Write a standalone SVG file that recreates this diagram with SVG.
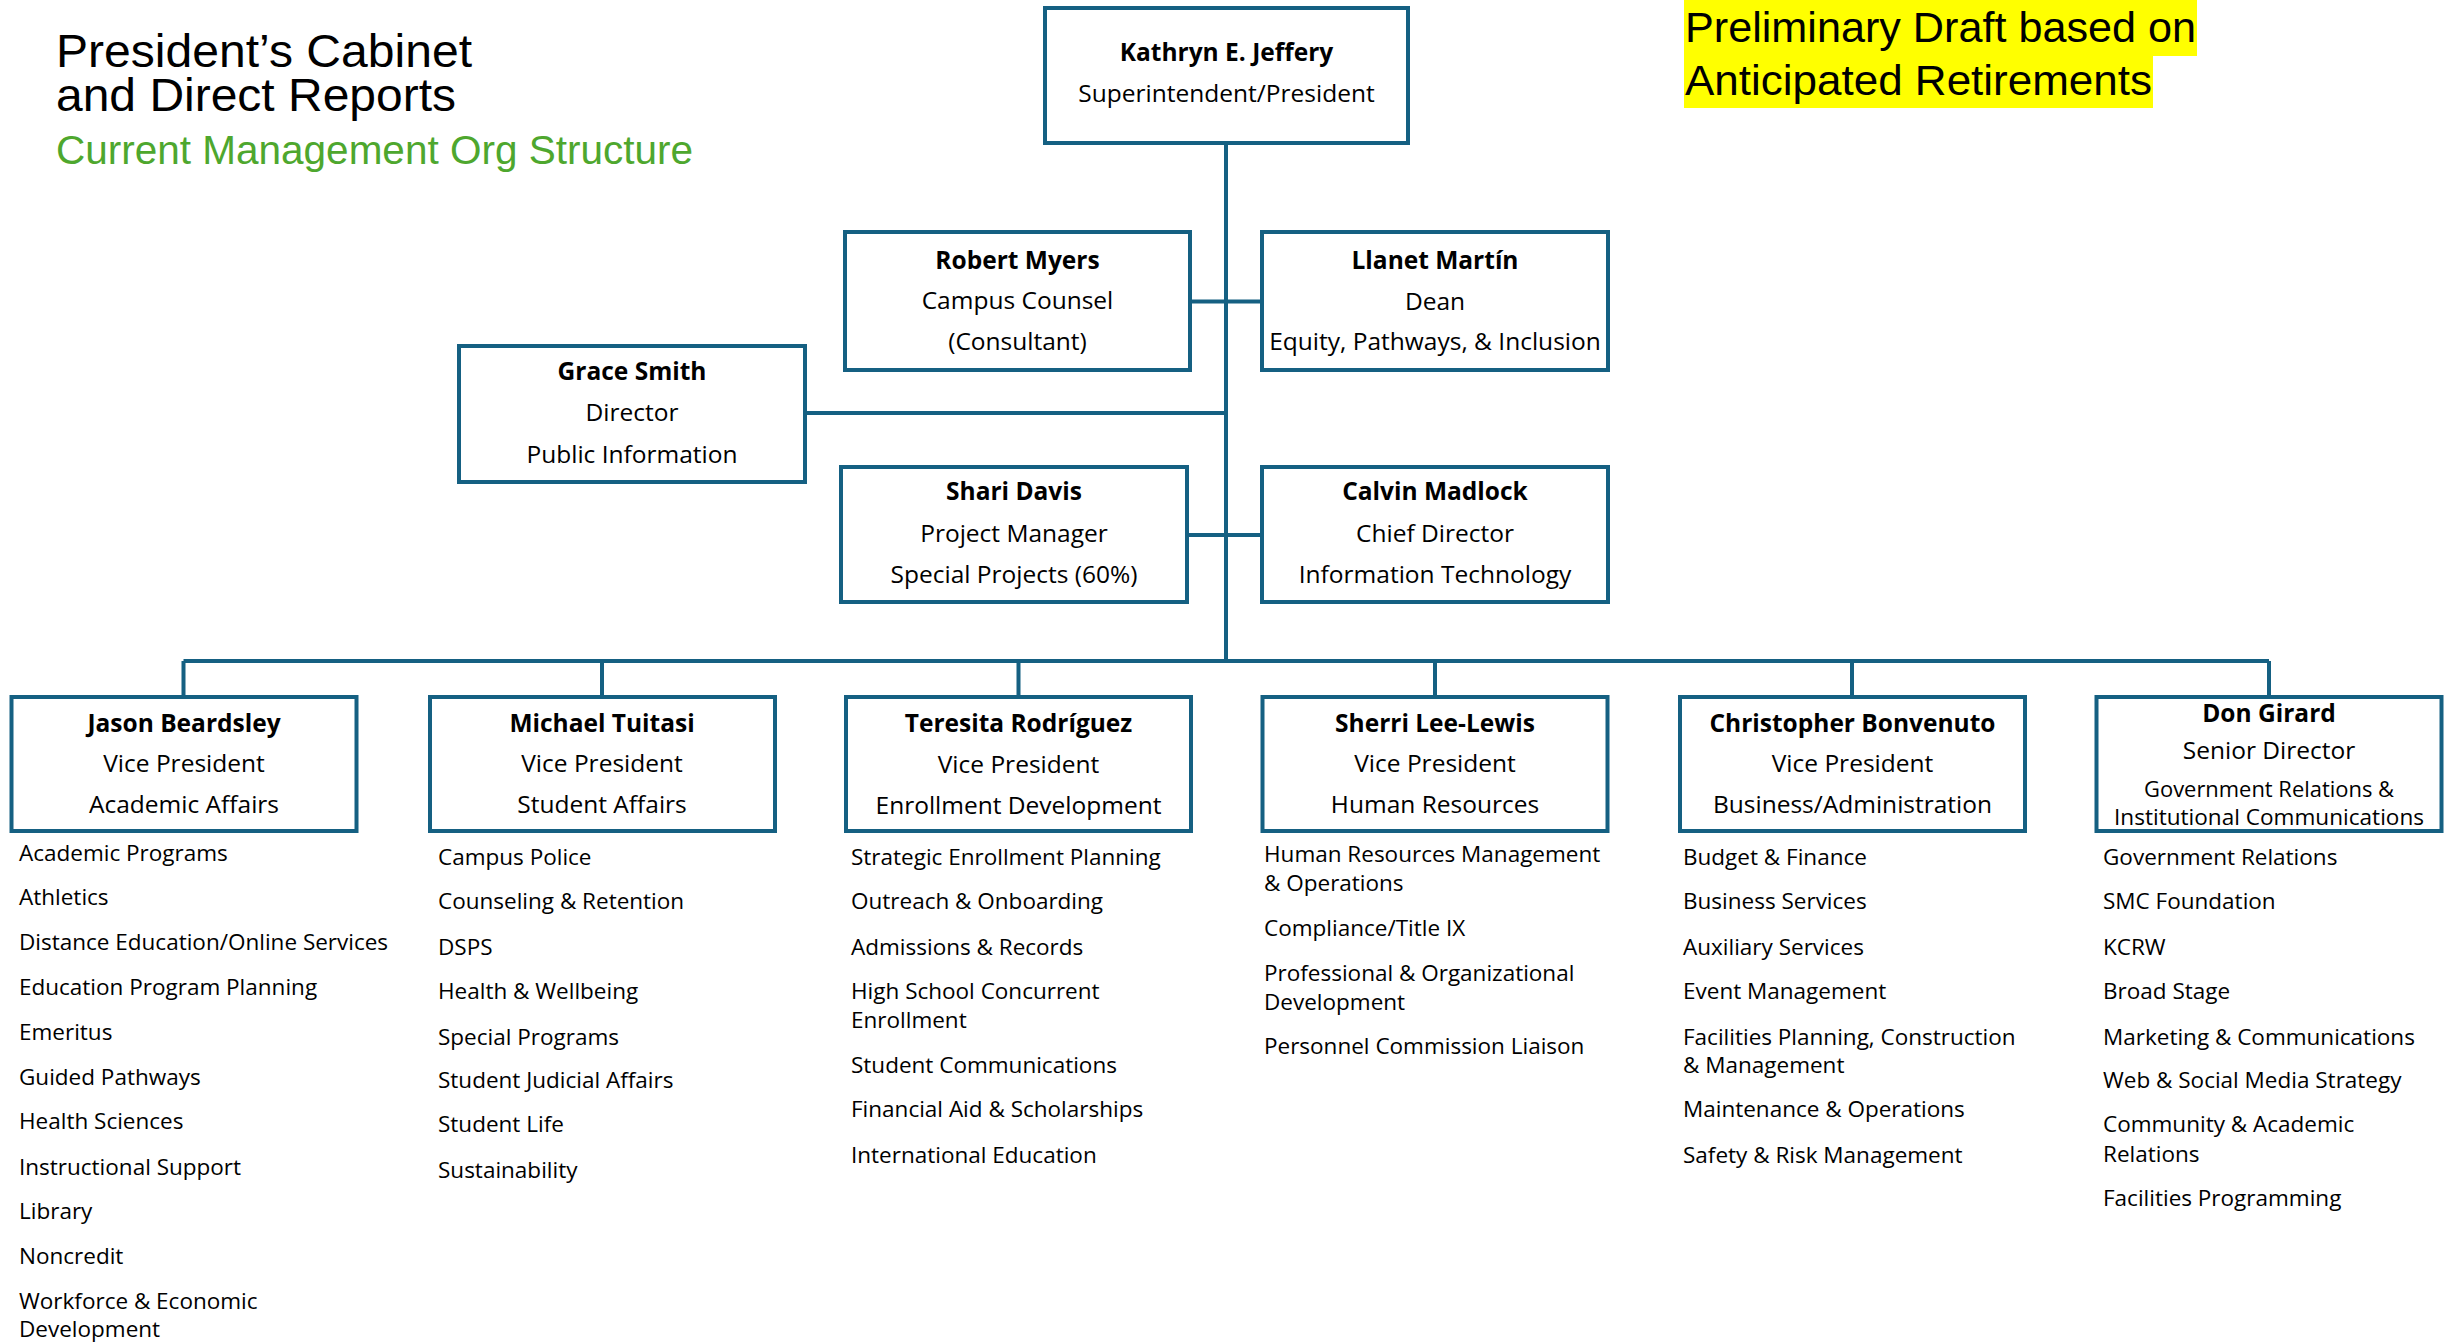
<svg xmlns="http://www.w3.org/2000/svg" width="2455" height="1342" viewBox="0 0 2455 1342">
<style>
.box{fill:#fff;stroke:#156082;stroke-width:4}
.con{fill:none;stroke:#156082;stroke-width:4}
.t{font-family:"Open Sans","Liberation Sans",sans-serif;font-size:24.5px;fill:#000;text-anchor:middle}
.n{font-weight:bold}
.s{font-size:21px}
.li{font-family:"Open Sans","Liberation Sans",sans-serif;font-size:22.5px;fill:#000}
.title{font-family:"Liberation Sans",Arial,sans-serif;font-size:46px;fill:#000}
.green{font-family:"Liberation Sans",Arial,sans-serif;font-size:40px;fill:#4EA72E}
.hl{font-family:"Liberation Sans",Arial,sans-serif;font-size:43px;fill:#000}
</style>
<rect width="2455" height="1342" fill="#fff"/>
<g id="title">
<text class="title" x="56" y="67" textLength="416" lengthAdjust="spacingAndGlyphs">President’s Cabinet</text>
<text class="title" x="56" y="111" textLength="400" lengthAdjust="spacingAndGlyphs">and Direct Reports</text>
<text class="green" x="56" y="164" textLength="637" lengthAdjust="spacingAndGlyphs">Current Management Org Structure</text>
</g>
<g id="draft-note">
<rect x="1684" y="0" width="513" height="56" fill="#FFFF00"/>
<rect x="1684" y="55" width="469" height="53" fill="#FFFF00"/>
<text class="hl" x="1685" y="42" textLength="511" lengthAdjust="spacingAndGlyphs">Preliminary Draft based on</text>
<text class="hl" x="1685" y="95" textLength="467" lengthAdjust="spacingAndGlyphs">Anticipated Retirements</text>
</g>
<g id="connectors">
<path class="con" d="M1226 143V661"/>
<path class="con" d="M1190 301.5H1262"/>
<path class="con" d="M805 413H1226"/>
<path class="con" d="M1187 535H1262"/>
<path class="con" d="M183.5 661H2269"/>
<path class="con" d="M183.5 661V697M602 661V697M1018.5 661V697M1435 661V697M1852 661V697M2269 661V697"/>
</g>
<g id="node-jeffery">
<rect class="box" x="1045" y="8" width="363" height="135"/>
<text class="t n" x="1226.5" y="61">Kathryn E. Jeffery</text>
<text class="t" x="1226.5" y="102">Superintendent/President</text>
</g>
<g id="node-myers">
<rect class="box" x="845" y="232" width="345" height="138"/>
<text class="t n" x="1017.5" y="269">Robert Myers</text>
<text class="t" x="1017.5" y="309">Campus Counsel</text>
<text class="t" x="1017.5" y="350">(Consultant)</text>
</g>
<g id="node-martin">
<rect class="box" x="1262" y="232" width="346" height="138"/>
<text class="t n" x="1435" y="269">Llanet Martín</text>
<text class="t" x="1435" y="310">Dean</text>
<text class="t" x="1435" y="350">Equity, Pathways, &amp; Inclusion</text>
</g>
<g id="node-smith">
<rect class="box" x="459" y="346" width="346" height="136"/>
<text class="t n" x="632" y="380">Grace Smith</text>
<text class="t" x="632" y="421">Director</text>
<text class="t" x="632" y="463">Public Information</text>
</g>
<g id="node-davis">
<rect class="box" x="841" y="467" width="346" height="135"/>
<text class="t n" x="1014" y="500">Shari Davis</text>
<text class="t" x="1014" y="542">Project Manager</text>
<text class="t" x="1014" y="583">Special Projects (60%)</text>
</g>
<g id="node-madlock">
<rect class="box" x="1262" y="467" width="346" height="135"/>
<text class="t n" x="1435" y="500">Calvin Madlock</text>
<text class="t" x="1435" y="542">Chief Director</text>
<text class="t" x="1435" y="583">Information Technology</text>
</g>
<g id="node-beardsley">
<rect class="box" x="11.5" y="697" width="345" height="134"/>
<text class="t n" x="184" y="732">Jason Beardsley</text>
<text class="t" x="184" y="772">Vice President</text>
<text class="t" x="184" y="813">Academic Affairs</text>
<g class="li">
<text x="19" y="861">Academic Programs</text>
<text x="19" y="905">Athletics</text>
<text x="19" y="950">Distance Education/Online Services</text>
<text x="19" y="995">Education Program Planning</text>
<text x="19" y="1040">Emeritus</text>
<text x="19" y="1085">Guided Pathways</text>
<text x="19" y="1129">Health Sciences</text>
<text x="19" y="1175">Instructional Support</text>
<text x="19" y="1219">Library</text>
<text x="19" y="1264">Noncredit</text>
<text x="19" y="1309">Workforce &amp; Economic</text>
<text x="19" y="1337">Development</text>
</g>
</g>
<g id="node-tuitasi">
<rect class="box" x="430" y="697" width="345" height="134"/>
<text class="t n" x="602" y="732">Michael Tuitasi</text>
<text class="t" x="602" y="772">Vice President</text>
<text class="t" x="602" y="813">Student Affairs</text>
<g class="li">
<text x="438" y="865">Campus Police</text>
<text x="438" y="909">Counseling &amp; Retention</text>
<text x="438" y="955">DSPS</text>
<text x="438" y="999">Health &amp; Wellbeing</text>
<text x="438" y="1045">Special Programs</text>
<text x="438" y="1088">Student Judicial Affairs</text>
<text x="438" y="1132">Student Life</text>
<text x="438" y="1178">Sustainability</text>
</g>
</g>
<g id="node-rodriguez">
<rect class="box" x="846" y="697" width="345" height="134"/>
<text class="t n" x="1018.5" y="732">Teresita Rodríguez</text>
<text class="t" x="1018.5" y="773">Vice President</text>
<text class="t" x="1018.5" y="814">Enrollment Development</text>
<g class="li">
<text x="851" y="865">Strategic Enrollment Planning</text>
<text x="851" y="909">Outreach &amp; Onboarding</text>
<text x="851" y="955">Admissions &amp; Records</text>
<text x="851" y="999">High School Concurrent</text>
<text x="851" y="1028">Enrollment</text>
<text x="851" y="1073">Student Communications</text>
<text x="851" y="1117">Financial Aid &amp; Scholarships</text>
<text x="851" y="1163">International Education</text>
</g>
</g>
<g id="node-lee-lewis">
<rect class="box" x="1262.5" y="697" width="345" height="134"/>
<text class="t n" x="1435" y="732">Sherri Lee-Lewis</text>
<text class="t" x="1435" y="772">Vice President</text>
<text class="t" x="1435" y="813">Human Resources</text>
<g class="li">
<text x="1264" y="862">Human Resources Management</text>
<text x="1264" y="891">&amp; Operations</text>
<text x="1264" y="936">Compliance/Title IX</text>
<text x="1264" y="981">Professional &amp; Organizational</text>
<text x="1264" y="1010">Development</text>
<text x="1264" y="1054">Personnel Commission Liaison</text>
</g>
</g>
<g id="node-bonvenuto">
<rect class="box" x="1680" y="697" width="345" height="134"/>
<text class="t n" x="1852.5" y="732">Christopher Bonvenuto</text>
<text class="t" x="1852.5" y="772">Vice President</text>
<text class="t" x="1852.5" y="813">Business/Administration</text>
<g class="li">
<text x="1683" y="865">Budget &amp; Finance</text>
<text x="1683" y="909">Business Services</text>
<text x="1683" y="955">Auxiliary Services</text>
<text x="1683" y="999">Event Management</text>
<text x="1683" y="1045">Facilities Planning, Construction</text>
<text x="1683" y="1073">&amp; Management</text>
<text x="1683" y="1117">Maintenance &amp; Operations</text>
<text x="1683" y="1163">Safety &amp; Risk Management</text>
</g>
</g>
<g id="node-girard">
<rect class="box" x="2096.5" y="697" width="345" height="134"/>
<text class="t n" x="2269" y="722">Don Girard</text>
<text class="t" x="2269" y="759">Senior Director</text>
<text class="t s" x="2269" y="797" textLength="250" lengthAdjust="spacingAndGlyphs">Government Relations &amp;</text>
<text class="t s" x="2269" y="825" textLength="310" lengthAdjust="spacingAndGlyphs">Institutional Communications</text>
<g class="li">
<text x="2103" y="865">Government Relations</text>
<text x="2103" y="909">SMC Foundation</text>
<text x="2103" y="955">KCRW</text>
<text x="2103" y="999">Broad Stage</text>
<text x="2103" y="1045">Marketing &amp; Communications</text>
<text x="2103" y="1088">Web &amp; Social Media Strategy</text>
<text x="2103" y="1132">Community &amp; Academic</text>
<text x="2103" y="1162">Relations</text>
<text x="2103" y="1206">Facilities Programming</text>
</g>
</g>
</svg>
